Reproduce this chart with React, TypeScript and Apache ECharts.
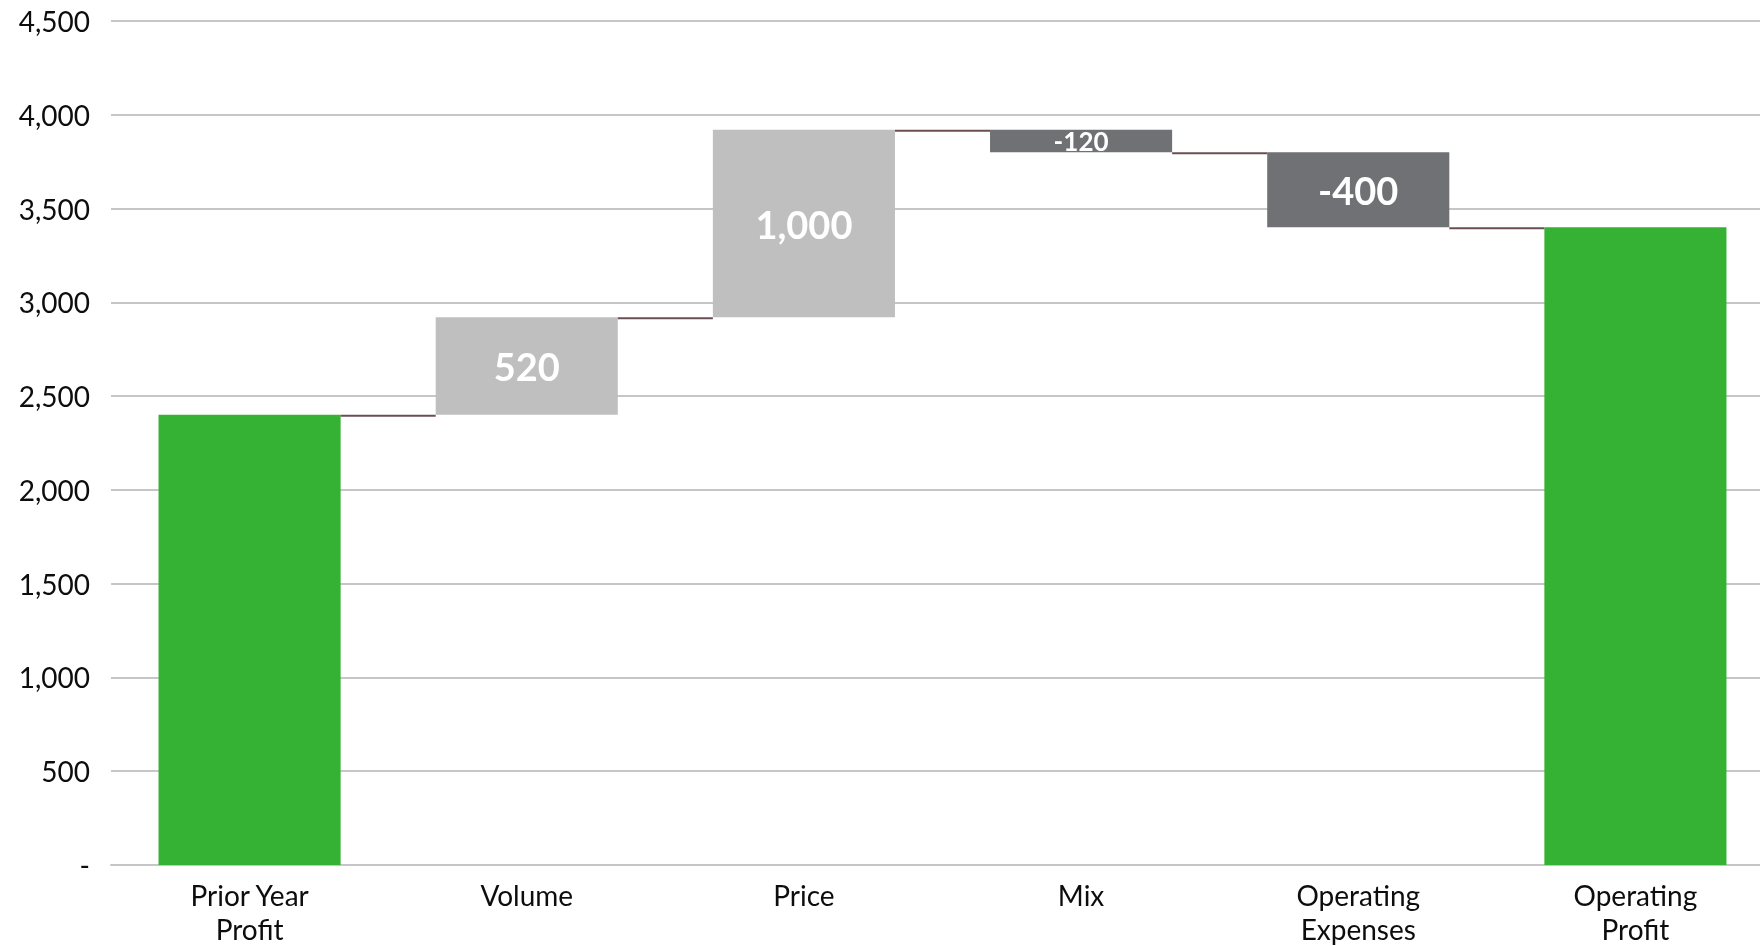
import React, { useEffect, useRef } from "react";
import * as echarts from "echarts";

const categories = ["Prior Year\nProfit", "Volume", "Price", "Mix", "Operating\nExpenses", "Operating\nProfit"];
const changes = [2400, 520, 1000, -120, -400, 3400];
const kinds = ["total", "delta", "delta", "delta", "delta", "total"];
const yTicks = { min: 0, max: 4500, interval: 500 };

const GREEN = "#35B234";
const LIGHT = "#BFBFBF";
const DARK = "#6F7175";
const FONT = "Lato, 'Open Sans', sans-serif";

export default function App() {
  const ref = useRef<HTMLDivElement>(null);
  useEffect(() => {
    document.body.style.margin = "0";
    document.body.style.overflow = "hidden";
    const chart = echarts.init(ref.current!, null, { renderer: "svg" });

    // running totals
    const baseVals: number[] = [];
    const heightVals: number[] = [];
    const levels: number[] = [];
    let running = 0;
    changes.forEach((c, i) => {
      if (kinds[i] === "total") {
        baseVals.push(0);
        heightVals.push(c);
        running = c;
      } else {
        const next = running + c;
        baseVals.push(Math.min(running, next));
        heightVals.push(Math.abs(c));
        running = next;
      }
      levels.push(running);
    });
    const connectors = levels.slice(0, -1).map((v, i) => [i, v]);

    const deltaData = heightVals.map((h, i) => {
      const isTotal = kinds[i] === "total";
      const color = isTotal ? GREEN : changes[i] >= 0 ? LIGHT : DARK;
      const small = !isTotal && Math.abs(changes[i]) < 200;
      return {
        value: h,
        itemStyle: { color },
        label: { show: !isTotal, fontSize: small ? 26 : 38 },
      };
    });

    const BAR_W = "65.7%";

    chart.setOption({
      animation: false,
      grid: { left: 111, top: 21, width: 1663, height: 844, containLabel: false },
      xAxis: {
        type: "category",
        data: categories,
        axisTick: { show: false },
        axisLine: { lineStyle: { color: "#C6C6C6", width: 2 } },
        axisLabel: {
          color: "#0D0D0D",
          fontFamily: FONT,
          fontSize: 28,
          lineHeight: 34,
          margin: 13,
          interval: 0,
        },
      },
      yAxis: {
        type: "value",
        min: yTicks.min,
        max: yTicks.max,
        interval: yTicks.interval,
        axisLine: { show: false },
        axisTick: { show: false },
        splitLine: { lineStyle: { color: "#C6C6C6", width: 2 } },
        axisLabel: {
          color: "#0D0D0D",
          fontFamily: FONT,
          fontSize: 28,
          margin: 21,
          formatter: (v: number) => (v === 0 ? "-" : v.toLocaleString("en-US")),
        },
      },
      series: [
        {
          type: "bar",
          stack: "wf",
          barWidth: BAR_W,
          data: baseVals,
          itemStyle: { color: "rgba(0,0,0,0)" },
          silent: true,
        },
        {
          type: "bar",
          stack: "wf",
          barWidth: BAR_W,
          data: deltaData,
          label: {
            position: "inside",
            color: "#FFFFFF",
            fontWeight: "bold",
            fontFamily: FONT,
            formatter: (p: any) => changes[p.dataIndex].toLocaleString("en-US"),
          },
        },
        {
          type: "custom",
          data: connectors,
          silent: true,
          z: 3,
          renderItem: (params: any, api: any) => {
            const i = api.value(0);
            const lvl = api.value(1);
            const p = api.coord([i, lvl]);
            const band = api.size([1, 0])[0];
            const bw = band * 0.657;
            return {
              type: "line",
              shape: { x1: p[0] + bw / 2, y1: p[1] + 1, x2: p[0] + band - bw / 2, y2: p[1] + 1 },
              style: { stroke: "#6B4E52", lineWidth: 2 },
            };
          },
        },
      ],
    });
    return () => chart.dispose();
  }, []);
  return <div ref={ref} style={{ position: "fixed", left: 0, top: 0, width: 1780, height: 946 }} />;
}
